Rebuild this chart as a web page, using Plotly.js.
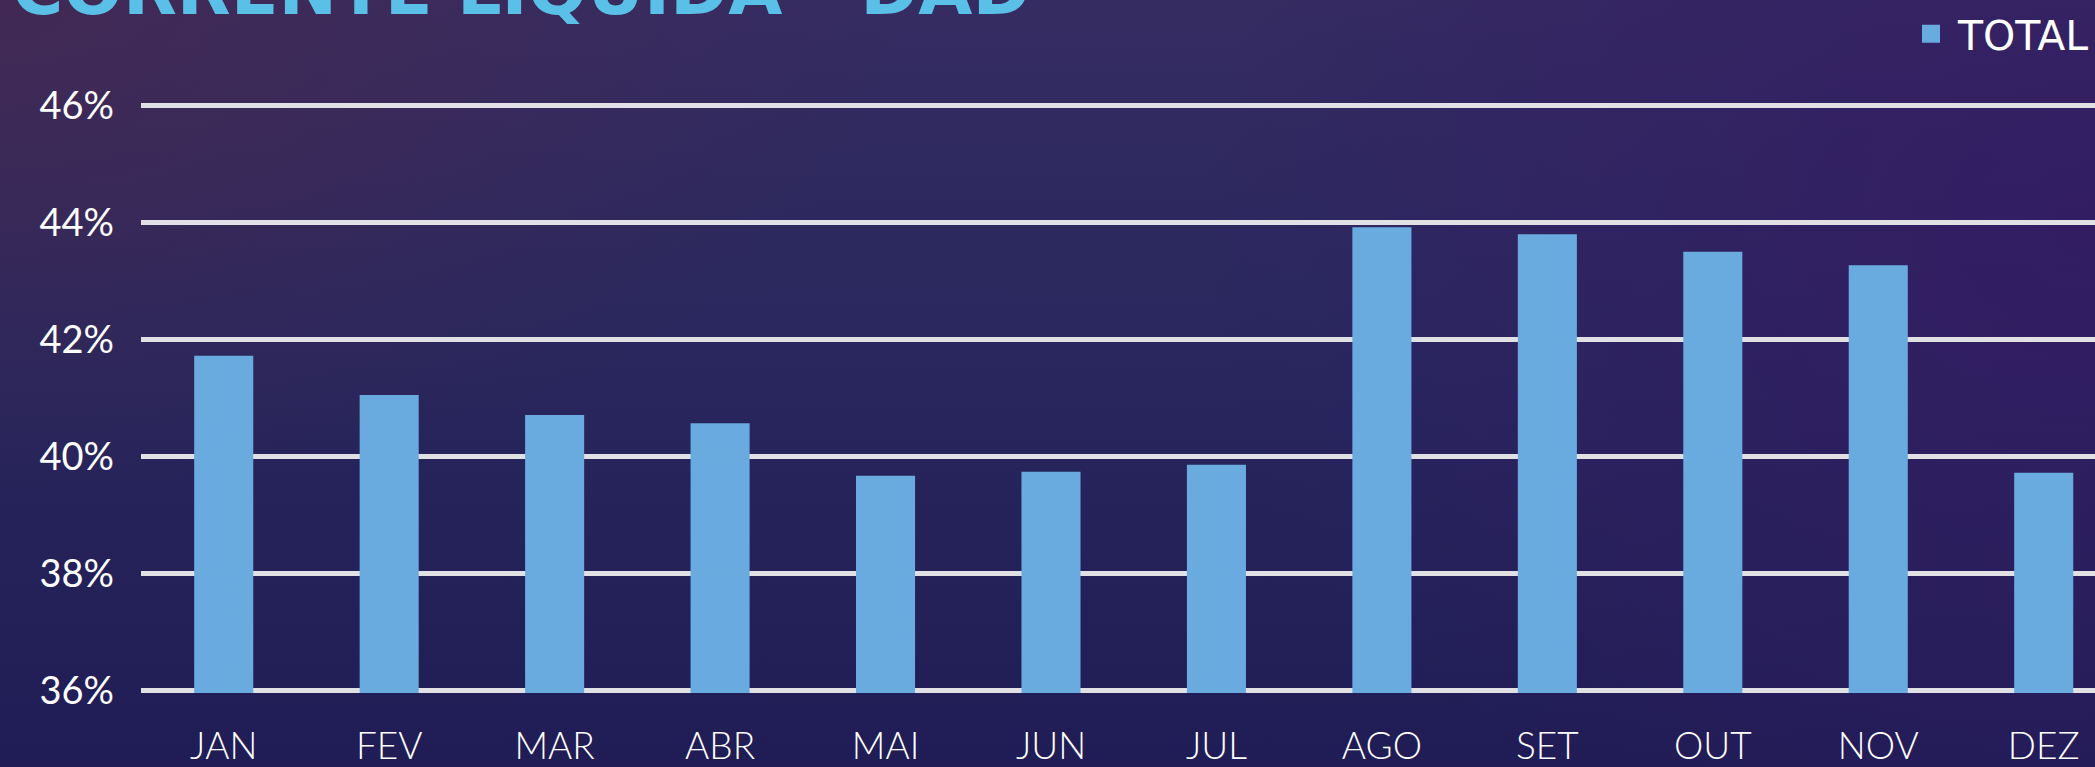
<!DOCTYPE html>
<html>
<head>
<meta charset="utf-8">
<script src="https://cdn.plot.ly/plotly-3.0.1.min.js"></script>
<style>
  html, body { margin: 0; padding: 0; width: 2095px; height: 767px; overflow: hidden; }
  body {
    background:
      radial-gradient(ellipse 900px 500px at 0% 0%, rgba(70,40,80,0.75), rgba(70,40,80,0) 100%),
      radial-gradient(ellipse 900px 700px at 100% 30%, rgba(52,26,100,0.8), rgba(52,26,100,0) 100%),
      linear-gradient(to bottom, #352c62 0%, #2a285e 40%, #201c55 100%);
  }
  #chart { width: 2095px; height: 767px; }
</style>
</head>
<body>
<div id="chart"></div>
<script>
// ---- data ----
const months = ["JAN", "FEV", "MAR", "ABR", "MAI", "JUN", "JUL", "AGO", "SET", "OUT", "NOV", "DEZ"];
const totalPct = [41.72, 41.05, 40.71, 40.57, 39.67, 39.74, 39.86, 43.92, 43.80, 43.50, 43.27, 39.72];
const yTickVals = [36, 38, 40, 42, 44, 46];
const yTickText = ["36%", "38%", "40%", "42%", "44%", "46%"];
const seriesName = "TOTAL";
const titleText = "CORRENTE LÍQUIDA - DAD";

// ---- style ----
const barColor = "#69abdf";
const yMin = 35.957, yMax = 46.213;

const traces = [
  {
    type: "bar",
    x: months,
    y: totalPct.map(v => v - yMin),
    base: yMin,
    marker: { color: barColor },
    showlegend: false,
    hoverinfo: "skip"
  },
  {
    type: "scatter",
    mode: "markers",
    x: [null],
    y: [null],
    name: seriesName,
    marker: { symbol: "square", size: 20, color: barColor, line: { color: barColor, width: 2 } },
    showlegend: true
  }
];

const layout = {
  width: 2095,
  height: 767,
  paper_bgcolor: "rgba(0,0,0,0)",
  plot_bgcolor: "rgba(0,0,0,0)",
  margin: { l: 141, r: 0, t: 93, b: 74, pad: 0, autoexpand: false },
  bargap: 0.643,
  xaxis: {
    type: "category",
    range: [-0.5, 11.31],
    showgrid: false,
    zeroline: false,
    showline: false,
    ticks: "",
    ticklabelstandoff: 28,
    tickfont: { family: "Lato", size: 37, color: "#ffffff", weight: 300 }
  },
  yaxis: {
    range: [yMin, yMax],
    tickvals: yTickVals,
    ticktext: yTickText,
    showgrid: true,
    gridcolor: "#e1e0e5",
    gridwidth: 5,
    zeroline: false,
    showline: false,
    ticks: "",
    ticklabelstandoff: 26,
    tickfont: { family: "Lato", size: 38, color: "#ffffff" }
  },
  showlegend: true,
  legend: {
    x: 1, xanchor: "right",
    y: 1.098, yanchor: "middle",
    itemwidth: 44,
    bgcolor: "rgba(0,0,0,0)",
    font: { family: "DejaVu Sans", size: 41, color: "#ffffff" }
  },
  annotations: [
    {
      text: titleText,
      xref: "paper", yref: "paper",
      x: -0.067, xanchor: "left",
      y: 1.10, yanchor: "bottom",
      showarrow: false,
      font: { family: "DejaVu Sans", size: 70, color: "#5bc0e7", weight: "bold" }
    }
  ]
};

Plotly.newPlot("chart", traces, layout, { staticPlot: true, displayModeBar: false });
</script>
</body>
</html>
